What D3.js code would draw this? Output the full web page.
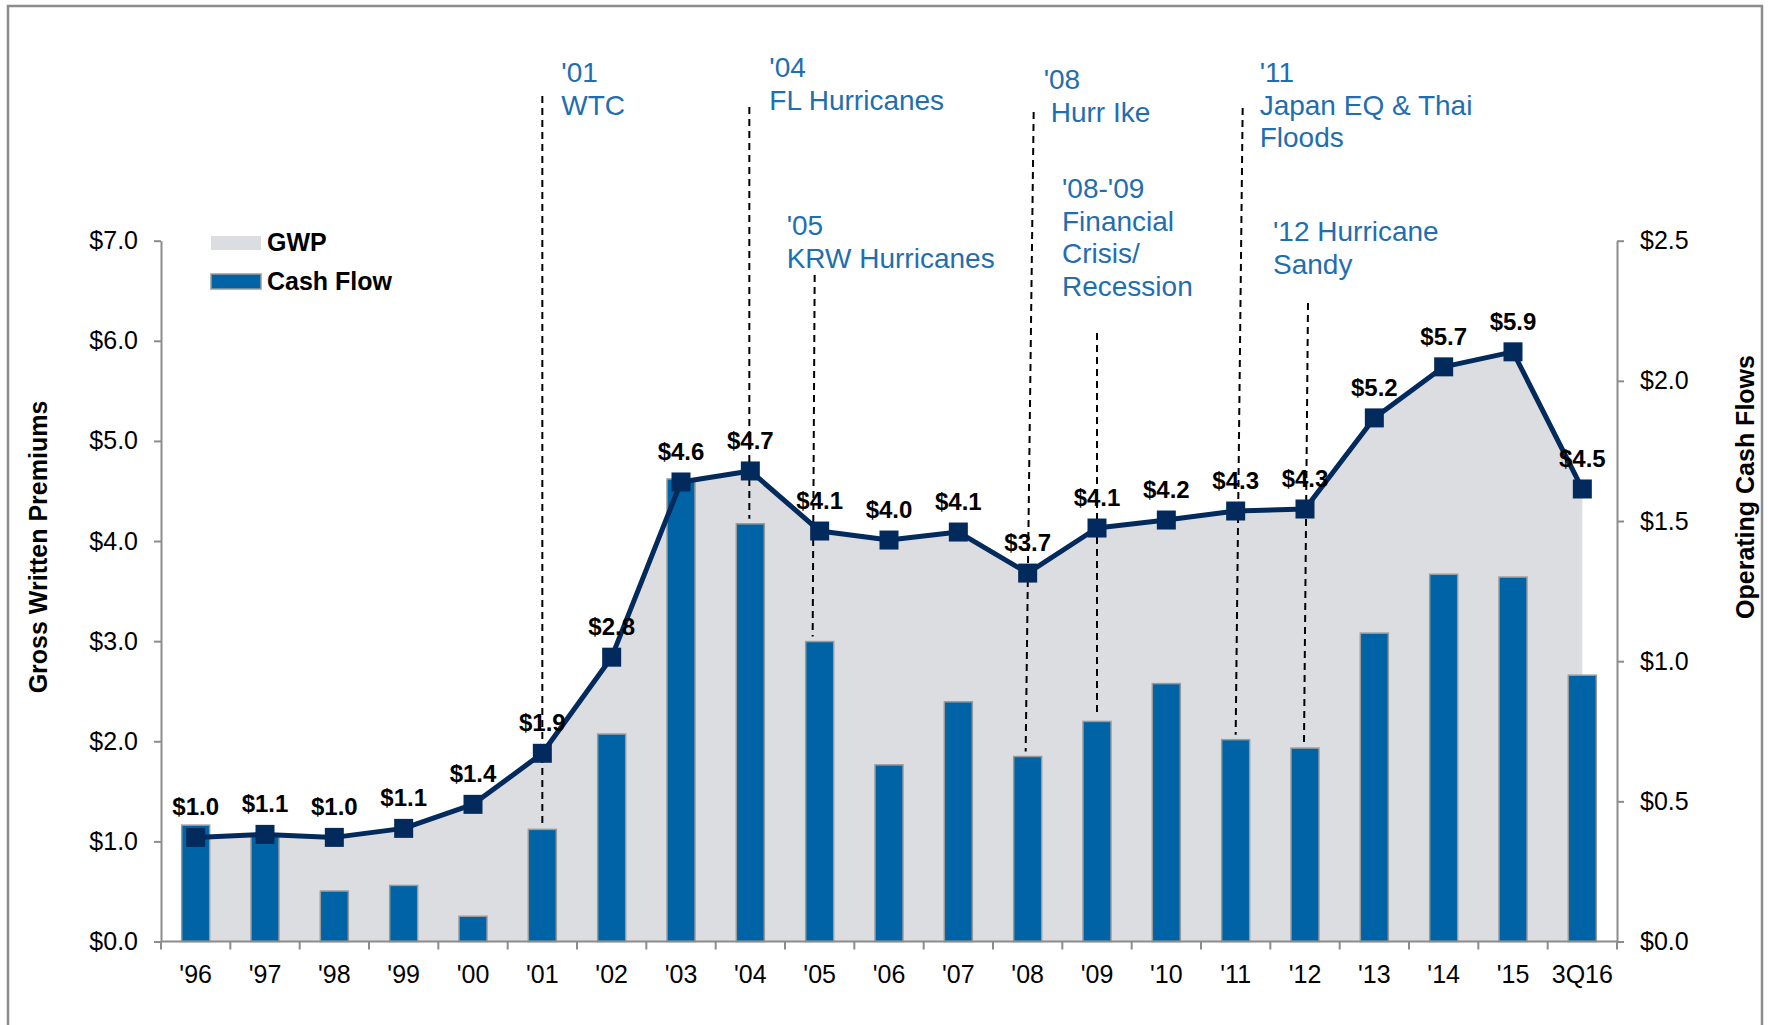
<!DOCTYPE html>
<html>
<head>
<meta charset="utf-8">
<script src="https://cdn.jsdelivr.net/npm/d3@7"></script>
<style>
  body { margin: 0; background: #fff; }
  text { font-family: "Liberation Sans", Arial, sans-serif; }
</style>
</head>
<body>
<svg id="chart" width="1768" height="1025"></svg>
<script>
// categories and series
var years = ["'96", "'97", "'98", "'99", "'00", "'01", "'02", "'03", "'04", "'05", "'06",
             "'07", "'08", "'09", "'10", "'11", "'12", "'13", "'14", "'15", "3Q16"];
var gwp = [1.04, 1.07, 1.04, 1.13, 1.37, 1.88, 2.84, 4.59, 4.70, 4.10, 4.01,
           4.09, 3.68, 4.13, 4.21, 4.30, 4.32, 5.23, 5.74, 5.89, 4.52];
var cashFlow = [0.415, 0.38, 0.18, 0.20, 0.09, 0.40, 0.74, 1.65, 1.49, 1.07, 0.63,
                0.855, 0.66, 0.785, 0.92, 0.72, 0.69, 1.10, 1.31, 1.30, 0.95];
var leftTicks = [0, 1, 2, 3, 4, 5, 6, 7];
var rightTicks = [0, 0.5, 1, 1.5, 2, 2.5];

// event call-outs
var events = [
    {cat: "'01", lines: ["'01", "WTC"]},
    {cat: "'04", lines: ["'04", "FL Hurricanes"]},
    {cat: "'05", lines: ["'05", "KRW Hurricanes"]},
    {cat: "'08", lines: ["'08", "Hurr Ike"]},
    {cat: "'09", lines: ["'08-'09", "Financial", "Crisis/", "Recession"]},
    {cat: "'11", lines: ["'11", "Japan EQ & Thai", "Floods"]},
    {cat: "'12", lines: ["'12 Hurricane", "Sandy"]}
];
// where each call-out sits (pixels, relative to its category centre)
var eventPlacement = [
    {dx: [19, 19], y0: 82, top: 96, dxTop: 0, dxBot: 0},
    {dx: [19, 19], y0: 77, top: 107, dxTop: -1, dxBot: -1},
    {dx: [-33, -33], y0: 235, top: 275, dxTop: -5, dxBot: -7},
    {dx: [16, 23], y0: 89, top: 112, dxTop: 6, dxBot: -2},
    {dx: [-35, -35, -35, -35], y0: 198, top: 333, dxTop: 0, dxBot: 0},
    {dx: [24, 24, 24], y0: 82, top: 108, dxTop: 7, dxBot: 0},
    {dx: [-32, -32], y0: 241, top: 303, dxTop: 3, dxBot: -1}
];

var axisColor = "#8c8c8c",
    areaColor = "#dcdde0",
    barColor = "#0063a6",
    lineColor = "#022a5c",
    noteColor = "#1f6eb0";

var svg = d3.select("#chart");

var x = d3.scaleBand().domain(years).range([161, 1617]).padding(0);
var yL = d3.scaleLinear().domain([0, 7]).range([941.5, 240.7]);
var yR = d3.scaleLinear().domain([0, 2.5]).range([941.5, 240.7]);
var cx = function(c){ return x(c) + x.bandwidth() / 2; };
var money = d3.format("$.1f");
var barW = 28;

// frame
svg.append("path")
    .attr("d", "M8,1030V6H1762V1030")
    .attr("fill", "none")
    .attr("stroke", axisColor)
    .attr("stroke-width", 2.5);

// GWP area
var area = d3.area()
    .x(function(d, i){ return cx(years[i]); })
    .y0(yL(0))
    .y1(function(d){ return yL(d); });
svg.append("path")
    .datum(gwp)
    .attr("d", area)
    .attr("fill", areaColor);

// cash flow bars
svg.append("g").selectAll("rect")
    .data(cashFlow)
    .join("rect")
    .attr("x", function(d, i){ return cx(years[i]) - barW / 2; })
    .attr("y", function(d){ return yR(d); })
    .attr("width", barW)
    .attr("height", function(d){ return yR(0) - yR(d); })
    .attr("fill", barColor)
    .attr("stroke", "#9a9a9a")
    .attr("stroke-width", 1.5);

// dashed call-out leaders
events.forEach(function(ev, k){
    var p = eventPlacement[k];
    var i = years.indexOf(ev.cat);
    var c = cx(ev.cat);
    svg.append("line")
        .attr("x1", c + p.dxTop)
        .attr("y1", p.top)
        .attr("x2", c + p.dxBot)
        .attr("y2", yR(cashFlow[i]) - 5)
        .attr("stroke", "#000")
        .attr("stroke-width", 2)
        .attr("stroke-dasharray", "7,5");
});

// GWP line + markers
var line = d3.line()
    .x(function(d, i){ return cx(years[i]); })
    .y(function(d){ return yL(d); });
svg.append("path")
    .datum(gwp)
    .attr("d", line)
    .attr("fill", "none")
    .attr("stroke", lineColor)
    .attr("stroke-width", 5)
    .attr("stroke-linejoin", "round");

svg.append("g").selectAll("rect")
    .data(gwp)
    .join("rect")
    .attr("x", function(d, i){ return cx(years[i]) - 9.5; })
    .attr("y", function(d){ return yL(d) - 9.5; })
    .attr("width", 19)
    .attr("height", 19)
    .attr("fill", lineColor);

svg.append("g").selectAll("text")
    .data(gwp)
    .join("text")
    .attr("x", function(d, i){ return cx(years[i]); })
    .attr("y", function(d){ return yL(d) - 22; })
    .attr("text-anchor", "middle")
    .attr("font-size", 24)
    .attr("font-weight", "bold")
    .attr("fill", "#000")
    .text(function(d){ return money(d); });

// call-out text
events.forEach(function(ev, k){
    var p = eventPlacement[k];
    var c = cx(ev.cat);
    var t = svg.append("text")
        .attr("font-size", 28)
        .attr("fill", noteColor);
    ev.lines.forEach(function(s, j){
        t.append("tspan")
            .attr("x", c + p.dx[j])
            .attr("y", p.y0 + j * 32.5)
            .text(s);
    });
});

// axes
function styleAxis(g){
    g.selectAll("path, line").attr("stroke", axisColor).attr("stroke-width", 2);
    g.selectAll("text").attr("font-size", 25).attr("fill", "#000")
        .attr("font-family", "Liberation Sans, Arial, sans-serif");
}

svg.append("g")
    .attr("transform", "translate(161,0)")
    .call(d3.axisLeft(yL).tickValues(leftTicks).tickFormat(money).tickSize(7).tickSizeOuter(0).tickPadding(16))
    .call(styleAxis);

svg.append("g")
    .attr("transform", "translate(1617,0)")
    .call(d3.axisRight(yR).tickValues(rightTicks).tickFormat(money).tickSize(7).tickSizeOuter(0).tickPadding(16))
    .call(styleAxis);

var xAxis = svg.append("g")
    .attr("transform", "translate(0," + yL(0) + ")")
    .call(d3.axisBottom(x).tickSize(0).tickPadding(24))
    .call(styleAxis);
xAxis.select(".domain").attr("d", "M161,0H1617");
xAxis.selectAll("g.tick text").attr("dy", "0.71em");

// category separators below the axis
svg.append("g").selectAll("line")
    .data(years.concat(["end"]))
    .join("line")
    .attr("x1", function(d, i){ return i < years.length ? x(d) : x.range()[1]; })
    .attr("x2", function(d, i){ return i < years.length ? x(d) : x.range()[1]; })
    .attr("y1", yL(0))
    .attr("y2", yL(0) + 8)
    .attr("stroke", axisColor)
    .attr("stroke-width", 2);

// axis titles
svg.append("text")
    .attr("transform", "translate(47,547) rotate(-90)")
    .attr("text-anchor", "middle")
    .attr("font-size", 25)
    .attr("font-weight", "bold")
    .text("Gross Written Premiums");

svg.append("text")
    .attr("transform", "translate(1754,487) rotate(-90)")
    .attr("text-anchor", "middle")
    .attr("font-size", 25)
    .attr("font-weight", "bold")
    .text("Operating Cash Flows");

// legend
var legend = [
    {name: "GWP", fill: areaColor, stroke: "none", y: 236, h: 14, base: 251},
    {name: "Cash Flow", fill: barColor, stroke: "#9a9a9a", y: 274, h: 15, base: 290}
];
legend.forEach(function(l){
    svg.append("rect")
        .attr("x", 211).attr("y", l.y)
        .attr("width", 50).attr("height", l.h)
        .attr("fill", l.fill)
        .attr("stroke", l.stroke)
        .attr("stroke-width", 1.5);
    svg.append("text")
        .attr("x", 267).attr("y", l.base)
        .attr("font-size", 25)
        .attr("font-weight", "bold")
        .text(l.name);
});
</script>
</body>
</html>
